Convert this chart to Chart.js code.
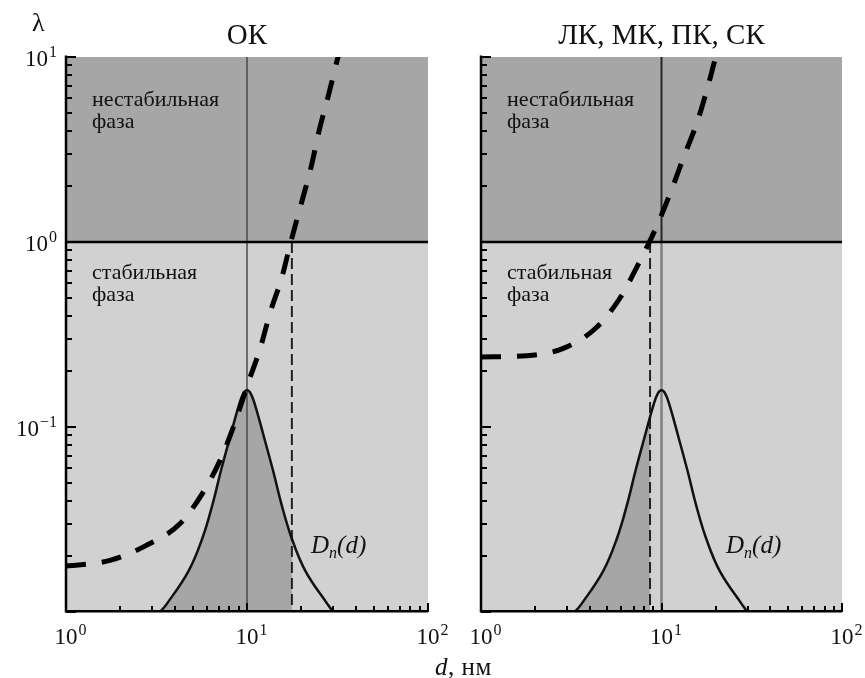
<!DOCTYPE html>
<html>
<head>
<meta charset="utf-8">
<script src="https://cdn.jsdelivr.net/npm/chart.js@4.4.1/dist/chart.umd.min.js"></script>
<style>
body{margin:0;background:#fff;}
#wrap{position:relative;width:865px;height:678px;overflow:hidden;font-family:"Liberation Serif",serif;color:#111;}
canvas{position:absolute;top:0;}
#c1{left:0;}
#c2{left:432px;}
.t{position:absolute;font-size:22px;line-height:22px;white-space:nowrap;z-index:5;}
.it{font-style:italic;}
.t sub{font-size:16px;line-height:0;vertical-align:-5px;}
</style>
</head>
<body>
<div id="wrap">
<canvas id="c1" width="470" height="678" style="width:470px;height:678px"></canvas>
<canvas id="c2" width="433" height="678" style="width:433px;height:678px"></canvas>

<div class="t" style="left:32px;top:10px;font-size:26px;line-height:26px">λ</div>
<div class="t" style="left:92px;top:88px">нестабильная<br>фаза</div>
<div class="t" style="left:92px;top:261px">стабильная<br>фаза</div>
<div class="t" style="left:507px;top:88px">нестабильная<br>фаза</div>
<div class="t" style="left:507px;top:261px">стабильная<br>фаза</div>
<div class="t it" style="left:311px;top:532px;font-size:25px;line-height:25px">D<sub>n</sub>(d)</div>
<div class="t it" style="left:726px;top:532px;font-size:25px;line-height:25px">D<sub>n</sub>(d)</div>
<div class="t" style="left:435px;top:654px;font-size:25px;line-height:25px;letter-spacing:0.5px"><i>d</i>, нм</div>
</div>

<script>
// границы осей
const dRange = [1, 100];
const lambdaRange = [0.01, 10];
const stableLimit = 1;      // λ = 1
const peakD = 10;

// деления
const xTickValues = [1, 2, 3, 4, 5, 6, 7, 8, 9, 10, 20, 30, 40, 50, 60, 70, 80, 90, 100];
const yTickValues = [0.01, 0.02, 0.03, 0.04, 0.05, 0.06, 0.07, 0.08, 0.09,
                     0.1, 0.2, 0.3, 0.4, 0.5, 0.6, 0.7, 0.8, 0.9,
                     1, 2, 3, 4, 5, 6, 7, 8, 9, 10];
const xLabelValues = [1, 10, 100];
const xLabelExps = ['0', '1', '2'];
const yLabelValues = [0.1, 1, 10];
const yLabelExps = ['\u22121', '0', '1'];

// распределение D_n(d)
const dnD   = [2.95, 3.3, 3.59, 4.76, 5.68, 6.45, 7.17, 8.04, 9.05, 9.55, 10, 10.47, 11.05, 12.44, 13.95, 15.51, 17.62, 21.0, 27.9, 30.0, 33.5];
const dnVal = [0.009, 0.0100, 0.0110, 0.0167, 0.0252, 0.0382, 0.0578, 0.0875, 0.1327, 0.152, 0.158, 0.152, 0.1327, 0.0875, 0.0578, 0.0382, 0.0252, 0.0167, 0.0110, 0.0100, 0.009];

// ОК
const okD      = [1, 1.75, 2.73, 4.26, 5.64, 7.1, 8.59, 10.1, 11.8, 13.4, 15.6, 17.5, 19.9, 22.6, 25, 28.4, 31.4, 33];
const okLambda = [0.0177, 0.019, 0.0227, 0.030, 0.0434, 0.066, 0.106, 0.171, 0.264, 0.413, 0.647, 1.01, 1.6, 2.54, 3.98, 6.39, 9.5, 11.5];
const okCutD = 17.7;
const okCutDn = 0.0245;

// ЛК, МК, ПК, СК
const lkD      = [1, 1.8, 2.88, 4.33, 5.89, 7.5, 9.2, 11.1, 13.2, 15.7, 18.1, 19.9, 21];
const lkLambda = [0.239, 0.243, 0.267, 0.343, 0.498, 0.77, 1.16, 1.8, 2.84, 4.4, 6.97, 9.9, 12.1];
const lkCutD = 8.64;
const lkCutDn = 0.115;

const SERIF = '"Liberation Serif", serif';
const DARK = '#a6a6a6';
const LIGHT = '#d1d1d1';

function pts(xs, ys) {
    return xs.map((x, i) => ({x: x, y: ys[i]}));
}

function isMajor(v) {
    const l = Math.log10(v);
    return Math.abs(l - Math.round(l)) < 1e-9;
}

function drawPow(ctx, exp, x, y, align) {
    ctx.font = '23px ' + SERIF;
    const wBase = ctx.measureText('10').width;
    ctx.font = '16px ' + SERIF;
    const wExp = ctx.measureText(exp).width;
    const x0 = align === 'right' ? x - wBase - wExp - 1 : x - wBase / 2;
    ctx.textAlign = 'left';
    ctx.textBaseline = 'alphabetic';
    ctx.font = '23px ' + SERIF;
    ctx.fillText('10', x0, y);
    ctx.font = '16px ' + SERIF;
    ctx.fillText(exp, x0 + wBase + 1, y - 9);
}

// оси с засечками внутрь и подписи 10^n
const decor = {
    id: 'decor',
    afterDraw(chart, args, opts) {
        const {ctx, chartArea: a, scales: {x, y}} = chart;
        ctx.save();
        ctx.strokeStyle = '#000';
        ctx.lineWidth = 2;
        xTickValues.forEach(v => {
            const px = Math.round(x.getPixelForValue(v));
            const len = isMajor(v) ? 9 : 6;
            ctx.beginPath();
            ctx.moveTo(px, a.bottom);
            ctx.lineTo(px, a.bottom - len);
            ctx.stroke();
        });
        yTickValues.forEach(v => {
            const py = Math.round(y.getPixelForValue(v));
            const len = isMajor(v) ? 10 : 6;
            ctx.beginPath();
            ctx.moveTo(a.left, py);
            ctx.lineTo(a.left + len, py);
            ctx.stroke();
        });
        ctx.lineWidth = 2.5;
        ctx.beginPath();
        ctx.moveTo(a.left, a.top - 1.5);
        ctx.lineTo(a.left, a.bottom - 0.7);
        ctx.lineTo(a.right, a.bottom - 0.7);
        ctx.stroke();

        ctx.fillStyle = '#111';
        xLabelValues.forEach((v, i) => {
            drawPow(ctx, xLabelExps[i], x.getPixelForValue(v), a.bottom + 32, 'center');
        });
        if (opts.yLabels) {
            yLabelValues.forEach((v, i) => {
                drawPow(ctx, yLabelExps[i], a.left - 9, y.getPixelForValue(v) + 9, 'right');
            });
        }
        ctx.restore();
    }
};

function buildChart(id, p) {
    const fillD = dnD.filter(d => d < p.cutD).concat([p.cutD]);
    const fillV = dnVal.slice(0, fillD.length - 1).concat([p.cutDn]);

    const datasets = [
        {data: pts(dRange, [stableLimit, stableLimit]), fill: 'end', backgroundColor: DARK,
         borderColor: 'transparent', borderWidth: 0, order: 20},
        {data: pts(dRange, [stableLimit, stableLimit]), fill: 'start', backgroundColor: LIGHT,
         borderColor: 'transparent', borderWidth: 0, order: 20},
        {data: pts(fillD, fillV), fill: 'start', backgroundColor: DARK, borderColor: 'transparent',
         borderWidth: 0, tension: 0.4, clip: 0, order: 15}
    ];
    if (p.splitPeak) {
        datasets.push({data: pts([peakD, peakD], [lambdaRange[0], stableLimit]), borderColor: '#808080', borderWidth: 2.5, order: 12});
        datasets.push({data: pts([peakD, peakD], [stableLimit, lambdaRange[1]]), borderColor: '#262626', borderWidth: 2, order: 12});
    } else {
        datasets.push({data: pts([peakD, peakD], [lambdaRange[0], lambdaRange[1]]), borderColor: '#4a4a4a', borderWidth: 1.5, order: 12});
    }
    datasets.push(
        {data: pts([p.cutD, p.cutD], [stableLimit, lambdaRange[0]]), borderColor: '#222', borderWidth: 2,
         borderDash: [11, 5], order: 10},
        {data: pts(dnD, dnVal), borderColor: '#111', borderWidth: 2.5, tension: 0.4,
         clip: 0, order: 8},
        {data: pts(dRange, [stableLimit, stableLimit]), borderColor: '#000', borderWidth: 2.5, order: 6},
        {data: pts(p.lamD, p.lam), borderColor: '#000', borderWidth: 5, borderDash: [20, 16],
         borderCapStyle: 'butt', cubicInterpolationMode: 'monotone', clip: 0, order: 1}
    );
    datasets.forEach(ds => { ds.pointRadius = 0; });

    return new Chart(document.getElementById(id), {
        type: 'line',
        data: {datasets: datasets},
        options: {
            responsive: false,
            animation: false,
            events: [],
            layout: {padding: p.pad},
            elements: {line: {tension: 0}, point: {radius: 0}},
            plugins: {
                legend: {display: false},
                tooltip: {enabled: false},
                title: {
                    display: true,
                    text: p.title,
                    color: '#111',
                    font: {family: SERIF, size: 29, weight: 'normal', lineHeight: 1.2},
                    padding: {top: 0, bottom: 3}
                },
                decor: {yLabels: p.yLabels}
            },
            scales: {
                x: {type: 'logarithmic', min: dRange[0], max: dRange[1],
                    ticks: {display: false}, grid: {display: false, drawTicks: false}, border: {display: false}},
                y: {type: 'logarithmic', min: lambdaRange[0], max: lambdaRange[1],
                    ticks: {display: false}, grid: {display: false, drawTicks: false}, border: {display: false}}
            }
        },
        plugins: [decor]
    });
}

buildChart('c1', {
    title: 'ОК', lamD: okD, lam: okLambda, cutD: okCutD, cutDn: okCutDn,
    splitPeak: false, yLabels: true,
    pad: {left: 66, right: 42, top: 19.2, bottom: 66}
});
buildChart('c2', {
    title: 'ЛК, МК, ПК, СК', lamD: lkD, lam: lkLambda, cutD: lkCutD, cutDn: lkCutDn,
    splitPeak: true, yLabels: false,
    pad: {left: 49, right: 23, top: 19.2, bottom: 66}
});
</script>
</body>
</html>
